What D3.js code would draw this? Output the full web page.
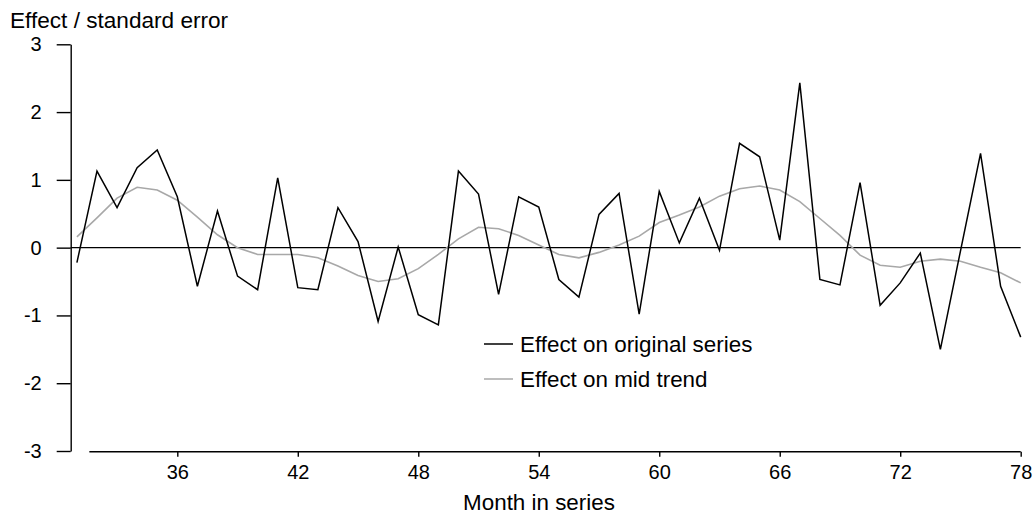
<!DOCTYPE html>
<html>
<head>
<meta charset="utf-8">
<script src="https://cdn.jsdelivr.net/npm/d3@7"></script>
<style>
  body { margin: 0; background: #fff; }
  svg { font-family: "Liberation Sans", Arial, sans-serif; }
  .tick text { font-size: 20px; fill: #000; }
  .domain, .tick line { stroke: #000; stroke-width: 1.4px; }
</style>
</head>
<body>
<main></main>
<script>
// data
const months = d3.range(31, 79);
const original = [
  -0.22, 1.13, 0.59, 1.18, 1.44, 0.75, -0.57, 0.54, -0.42, -0.62,
  1.03, -0.59, -0.62, 0.59, 0.09, -1.09, 0.01, -0.99, -1.14, 1.13,
  0.79, -0.69, 0.75, 0.60, -0.47, -0.73, 0.49, 0.80, -0.98, 0.83,
  0.07, 0.73, -0.04, 1.54, 1.34, 0.11, 2.43, -0.47, -0.55, 0.96,
  -0.85, -0.52, -0.08, -1.50, -0.05, 1.39, -0.57, -1.32
];
const midTrend = [
  0.16, 0.44, 0.73, 0.89, 0.85, 0.70, 0.45, 0.19, 0.00, -0.10,
  -0.10, -0.10, -0.15, -0.27, -0.41, -0.50, -0.46, -0.31, -0.10, 0.13,
  0.30, 0.28, 0.18, 0.04, -0.10, -0.15, -0.07, 0.04, 0.17, 0.37,
  0.48, 0.60, 0.76, 0.87, 0.91, 0.85, 0.68, 0.43, 0.18, -0.11,
  -0.26, -0.29, -0.20, -0.17, -0.20, -0.29, -0.37, -0.52
];
const xTicks = [36, 42, 48, 54, 60, 66, 72, 78];
const yTicks = [-3, -2, -1, 0, 1, 2, 3];
const seriesNames = ["Effect on original series", "Effect on mid trend"];
const seriesColors = ["#000000", "#a8a8a8"];

var width = 1034;
var height = 514;

var svg = d3.select("main")
  .append("svg")
  .attr("width", width)
  .attr("height", height);

const xScale = d3.scaleLinear()
  .domain([31, 78])
  .range([76.9, 1020.7]);

const yScale = d3.scaleLinear()
  .domain([-3, 3])
  .range([451, 44.3]);

// y axis (plain hyphen for negatives, like the original)
var yAxisX = 70.7;
svg.append("g")
  .attr("id", "y-axis")
  .attr("transform", "translate(" + yAxisX + ",0)")
  .call(d3.axisLeft(yScale).tickValues(yTicks).tickSize(14).tickSizeOuter(0).tickPadding(15).tickFormat(d => String(d)));

// x axis, starts a little right of the y axis
var xAxisY = 451.7;
var xAxis = svg.append("g")
  .attr("id", "x-axis")
  .attr("transform", "translate(0," + xAxisY + ")")
  .call(d3.axisBottom(xScale).tickValues(xTicks).tickSize(5).tickSizeOuter(0).tickPadding(8).tickFormat(d => String(d)));
xAxis.select(".domain")
  .attr("d", "M" + xScale(31.62) + ",0H" + xScale(78));

// zero line
svg.append("line")
  .attr("x1", yAxisX)
  .attr("x2", xScale(78))
  .attr("y1", yScale(0))
  .attr("y2", yScale(0))
  .attr("stroke", "#000")
  .attr("stroke-width", 1.4);

const line = d3.line()
  .x((d, i) => xScale(months[i]))
  .y(d => yScale(d));

svg.append("path")
  .datum(midTrend)
  .attr("fill", "none")
  .attr("stroke", seriesColors[1])
  .attr("stroke-width", 1.6)
  .attr("d", line);

svg.append("path")
  .datum(original)
  .attr("fill", "none")
  .attr("stroke", seriesColors[0])
  .attr("stroke-width", 1.5)
  .attr("d", line);

// titles
svg.append("text")
  .text("Effect / standard error")
  .attr("x", 10)
  .attr("y", 28)
  .style("font-size", "22.6px");

svg.append("text")
  .text("Month in series")
  .attr("x", 539)
  .attr("y", 510)
  .attr("text-anchor", "middle")
  .style("font-size", "22.4px");

// legend
var legend = svg.append("g").attr("id", "legend");
seriesNames.forEach((name, i) => {
  var ly = 344 + i * 35;
  legend.append("line")
    .attr("x1", 484)
    .attr("x2", 513)
    .attr("y1", ly)
    .attr("y2", ly)
    .attr("stroke", seriesColors[i])
    .attr("stroke-width", 1.5);
  legend.append("text")
    .text(name)
    .attr("x", 520)
    .attr("y", ly + 8)
    .style("font-size", "22.4px");
});
</script>
</body>
</html>
